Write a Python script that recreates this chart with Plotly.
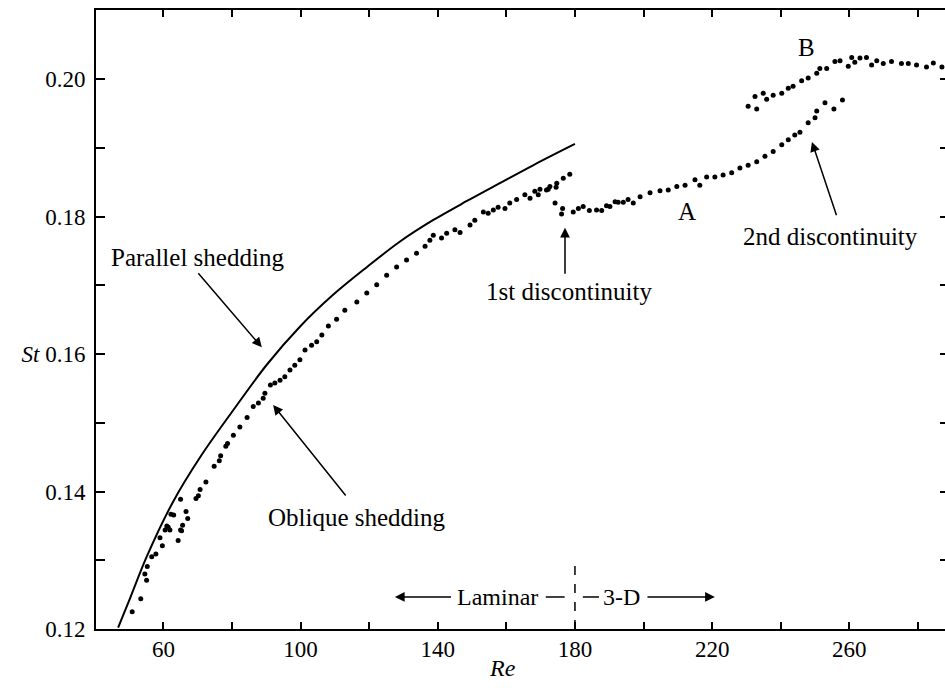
import plotly.graph_objects as go

# Parallel-shedding curve (read at points along the solid line)
re_parallel = [46.8, 50.3, 55.2, 62.8, 70.7, 80.3, 90.2, 99.8, 109.4, 119.4,
               129.0, 138.6, 148.5, 158.1, 167.8, 180.0]
st_parallel = [0.1202, 0.1245, 0.1306, 0.1385, 0.1450, 0.1518, 0.1585, 0.1640, 0.1686,
               0.1727, 0.1764, 0.1795, 0.1823, 0.1849, 0.1875, 0.1906]

# Oblique shedding, laminar regime
re_laminar = [49.1, 49.4, 50.9, 53.4, 55.1, 54.6, 55.3, 56.6, 57.8, 59.7, 59.0, 60.5,
              61.4, 61.9, 61.0, 62.2, 63.0, 64.3, 65.0, 65.6, 65.3, 67.1, 66.6, 65.0,
              69.5, 70.2, 70.7, 72.4, 74.8, 76.3, 76.7, 78.2, 78.7, 80.4, 82.3, 84.4,
              86.2, 87.7, 89.1, 89.6, 91.2, 92.5, 94.0, 95.4, 96.9, 98.3, 99.8, 101.3,
              103.2, 104.7, 106.2, 108.1, 110.5, 112.9, 116.4, 119.3, 122.2, 125.1,
              128.0, 130.9, 133.8, 136.3, 137.7, 138.7, 141.1, 142.6, 145.0, 146.5,
              149.4, 150.8, 153.3, 154.7, 156.2, 157.6, 159.6, 161.0, 163.0, 165.4,
              166.9, 168.3, 169.8, 169.3, 171.7, 172.7, 174.7, 176.6, 178.5, 172.2, 174.5]
st_laminar = [0.1183, 0.1198, 0.1225, 0.1244, 0.1271, 0.1280, 0.1291, 0.1305, 0.1309,
              0.1321, 0.1333, 0.1344, 0.1348, 0.1344, 0.1350, 0.1367, 0.1366, 0.1329,
              0.1344, 0.1351, 0.1343, 0.1361, 0.1371, 0.1389, 0.1390, 0.1394, 0.1403,
              0.1414, 0.1437, 0.1445, 0.1452, 0.1466, 0.1470, 0.1482, 0.1494, 0.1508,
              0.1524, 0.1529, 0.1536, 0.1543, 0.1555, 0.1558, 0.1562, 0.1567, 0.1577,
              0.1584, 0.1592, 0.1606, 0.1613, 0.1618, 0.1628, 0.1641, 0.1651, 0.1664,
              0.1676, 0.1689, 0.1701, 0.1715, 0.1727, 0.1737, 0.1747, 0.1757, 0.1766,
              0.1773, 0.1769, 0.1776, 0.1781, 0.1777, 0.1788, 0.1795, 0.1807, 0.1805,
              0.1810, 0.1814, 0.1812, 0.1820, 0.1825, 0.1832, 0.1827, 0.1837, 0.1840,
              0.1832, 0.1839, 0.1844, 0.1849, 0.1856, 0.1862, 0.1840, 0.1843]

# Mode A branch (after the 1st discontinuity)
re_mode_a = [174.2, 176.4, 176.1, 179.5, 181.0, 182.4, 184.2, 186.3, 187.8, 189.2,
             190.2, 191.7, 192.6, 194.1, 195.5, 197.0, 199.0, 201.9, 204.8, 207.2,
             209.7, 212.1, 215.0, 216.4, 218.4, 220.8, 223.2, 225.7, 228.1, 230.5,
             233.0, 235.4, 237.8, 240.3, 242.2, 244.1, 245.6, 248.0, 250.0, 250.5,
             252.9, 255.5, 258.0]
st_mode_a = [0.1820, 0.1812, 0.1804, 0.1807, 0.1812, 0.1815, 0.1809, 0.1810, 0.1809,
             0.1816, 0.1815, 0.1822, 0.1821, 0.1821, 0.1825, 0.1820, 0.1829, 0.1835,
             0.1838, 0.1839, 0.1844, 0.1846, 0.1854, 0.1846, 0.1858, 0.1858, 0.1861,
             0.1864, 0.1871, 0.1875, 0.1880, 0.1888, 0.1895, 0.1905, 0.1912, 0.1919,
             0.1923, 0.1937, 0.1944, 0.1954, 0.1966, 0.1957, 0.1970]

# Mode B branch (after the 2nd discontinuity)
re_mode_b = [230.5, 233.0, 232.5, 234.9, 235.9, 237.8, 240.3, 242.2, 243.6, 246.1,
             248.0, 250.5, 251.4, 253.4, 255.8, 257.3, 259.7, 260.7, 261.6, 263.1,
             265.0, 266.5, 268.0, 269.9, 272.3, 275.2, 277.2, 279.6, 282.5, 284.5, 287.0]
st_mode_b = [0.1961, 0.1957, 0.1975, 0.1980, 0.1971, 0.1977, 0.1980, 0.1987, 0.1990,
             0.1998, 0.2002, 0.2009, 0.2016, 0.2016, 0.2026, 0.2027, 0.2019, 0.2032,
             0.2025, 0.2031, 0.2032, 0.2021, 0.2027, 0.2023, 0.2026, 0.2023, 0.2023,
             0.2021, 0.2018, 0.2024, 0.2018]

x_ticks = [60, 80, 100, 120, 140, 160, 180, 200, 220, 240, 260, 280]
x_labels = ["60", "", "100", "", "140", "", "180", "", "220", "", "260", ""]
y_ticks = [0.12, 0.13, 0.14, 0.15, 0.16, 0.17, 0.18, 0.19, 0.20]
y_labels = ["0.12", "", "0.14", "", "<i>St</i> 0.16", "", "0.18", "", "0.20"]

FONT = "Liberation Serif"
X_RANGE = [40.35, 287.9]
Y_RANGE = [0.12, 0.2101]

fig = go.Figure()
fig.add_trace(go.Scatter(x=re_parallel, y=st_parallel, mode="lines",
                         line=dict(color="black", width=2, shape="spline", smoothing=1.0),
                         hoverinfo="skip", showlegend=False))
for xs, ys in [(re_laminar, st_laminar), (re_mode_a, st_mode_a), (re_mode_b, st_mode_b)]:
    fig.add_trace(go.Scatter(x=xs, y=ys, mode="markers",
                             marker=dict(size=5, color="black"),
                             cliponaxis=False, showlegend=False))
# invisible trace carrying the right-hand tick marks
fig.add_trace(go.Scatter(x=[None], y=[None], yaxis="y2", showlegend=False))

axis_common = dict(showgrid=False, zeroline=False, ticks="inside", tickcolor="black",
                   tickwidth=1.5, linecolor="black", linewidth=2,
                   tickfont=dict(family=FONT, size=23, color="black"))
fig.update_layout(
    width=945, height=693,
    margin=dict(l=96, r=0, t=10, b=64),
    paper_bgcolor="white", plot_bgcolor="white",
    font=dict(family=FONT, color="black"),
    xaxis=dict(range=X_RANGE, tickvals=x_ticks, ticktext=x_labels, ticklen=7,
               showline=True, mirror="ticks", ticklabelstandoff=-2, **axis_common),
    yaxis=dict(range=Y_RANGE, tickvals=y_ticks, ticktext=y_labels, ticklen=9,
               showline=True, mirror=False, ticklabelstandoff=4, **axis_common),
    yaxis2=dict(range=Y_RANGE, overlaying="y", side="right", tickvals=y_ticks,
                showticklabels=False, ticklen=5, showline=False, showgrid=False,
                zeroline=False, ticks="inside", tickcolor="black", tickwidth=1.5),
)


def label(x, y, text, size=25):
    fig.add_annotation(x=x, y=y, xref="x", yref="y", text=text, showarrow=False,
                       xanchor="center", yanchor="middle",
                       font=dict(family=FONT, size=size, color="black"))


def arrow(x0, y0, x1, y1):
    fig.add_annotation(x=x1, y=y1, ax=x0, ay=y0, xref="x", yref="y", axref="x",
                       ayref="y", text="", showarrow=True, arrowhead=2,
                       arrowsize=1.3, arrowwidth=1.5, arrowcolor="black")


label(69.8, 0.1741, "Parallel shedding")
arrow(69.8, 0.1720, 88.7, 0.1610)
label(116.4, 0.1363, "Oblique shedding")
arrow(113.5, 0.1392, 92.0, 0.1526)
label(178.3, 0.1691, "1st discontinuity")
arrow(177.1, 0.1715, 177.1, 0.1784)
label(254.6, 0.1772, "2nd discontinuity")
arrow(256.4, 0.1800, 249.1, 0.1909)
label(212.7, 0.1807, "A")
label(247.6, 0.2047, "B")

# Laminar / 3-D regime marker along the bottom
y_reg = 0.12466
label(157.5, y_reg, "Laminar", size=24)
label(193.7, y_reg, "3-D", size=24)
arrow(144.3, y_reg, 127.5, y_reg)
arrow(200.7, y_reg, 220.8, y_reg)
fig.add_shape(type="line", x0=171.5, x1=177.0, y0=y_reg, y1=y_reg,
              line=dict(color="black", width=1.5))
fig.add_shape(type="line", x0=182.3, x1=187.0, y0=y_reg, y1=y_reg,
              line=dict(color="black", width=1.5))
fig.add_shape(type="line", x0=180, x1=180, y0=0.12, y1=0.12975,
              line=dict(color="black", width=1.5, dash="dash"))

# x-axis title
fig.add_annotation(x=159, y=-0.063, xref="x", yref="paper", text="<i>Re</i>",
                   showarrow=False, xanchor="center", yanchor="middle",
                   font=dict(family=FONT, size=24, color="black"))

fig.write_html("out.html")
